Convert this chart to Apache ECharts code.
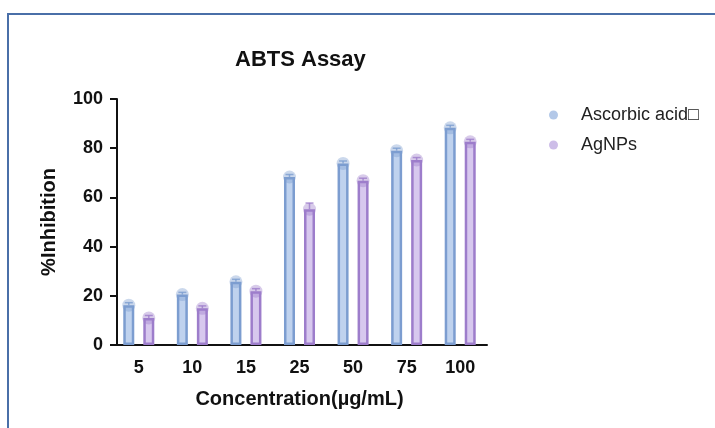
<!DOCTYPE html>
<html>
<head>
<meta charset="utf-8">
<script src="https://cdn.jsdelivr.net/npm/echarts@6/dist/echarts.min.js"></script>
<style>html,body{margin:0;padding:0;background:#fff;}#c{width:715px;height:428px;}</style>
</head>
<body>
<div id="c"></div>
<script>
const categories = ['5', '10', '15', '25', '50', '75', '100'];
const ascorbicName = 'Ascorbic acid\u25A1';
const agnpsName = 'AgNPs';
const ascorbic = [16.2, 20.5, 25.7, 68.3, 73.8, 79.0, 88.3];
const ascorbicErr = [1.0, 0.9, 1.0, 1.0, 1.0, 1.0, 1.0];
const agnps = [11.0, 14.9, 21.9, 55.2, 66.8, 75.2, 82.6];
const agnpsErr = [1.0, 1.0, 1.0, 2.5, 1.0, 1.0, 1.0];
const yTicks = [0, 20, 40, 60, 80, 100];

const FONT = '"Liberation Sans", Arial, sans-serif';
const blueFill = '#bfd2ee', blueLine = '#7c9dd0';
const purpFill = '#d7c8ee', purpLine = '#9d7dcb';
const OFF = 10;

function errSeries(vals, errs, off, color) {
  return {
    type: 'custom', z: 5, silent: true,
    data: categories.map((c, i) => [i, vals[i], errs[i]]),
    renderItem: function (params, api) {
      const p = api.coord([api.value(0), api.value(1)]);
      const t = api.coord([api.value(0), api.value(1) + api.value(2)]);
      const x = p[0] + off;
      return {
        type: 'group', children: [
          { type: 'circle', shape: { cx: x, cy: p[1], r: 6.5 }, style: { fill: color, opacity: 0.4 }, z2: 0 },
          { type: 'line', shape: { x1: x, y1: p[1], x2: x, y2: t[1] }, style: { stroke: color, lineWidth: 1.5, opacity: 0.8 } },
          { type: 'line', shape: { x1: x - 4, y1: t[1], x2: x + 4, y2: t[1] }, style: { stroke: color, lineWidth: 1.5, opacity: 0.8 } }
        ]
      };
    }
  };
}

const chart = echarts.init(document.getElementById('c'), null, { renderer: 'canvas' });
chart.setOption({
  animation: false,
  backgroundColor: '#fff',
  graphic: [{
    type: 'rect', shape: { x: 8, y: 14, width: 800, height: 500 },
    style: { fill: 'none', stroke: '#4a6fa8', lineWidth: 2 }, silent: true
  }],
  title: {
    text: 'ABTS Assay', left: 230, top: 44,
    textStyle: { fontFamily: FONT, fontSize: 22, fontWeight: 'bold', color: '#111' }
  },
  legend: {
    orient: 'vertical', left: 544, top: 101, itemWidth: 9, itemHeight: 9, itemGap: 12,
    icon: 'circle',
    data: [
      { name: ascorbicName, itemStyle: { color: '#b3c8e8', borderWidth: 0 } },
      { name: agnpsName, itemStyle: { color: '#cdbde8', borderWidth: 0 } }
    ],
    textStyle: { fontFamily: FONT, fontSize: 18, color: '#222', padding: [0, 0, 0, 18] }
  },
  grid: { left: 112, right: 228, top: 99, bottom: 83 },
  xAxis: {
    type: 'category', data: categories,
    axisLine: { lineStyle: { color: '#111', width: 2 } },
    axisTick: { alignWithLabel: true, length: 7, lineStyle: { color: '#111', width: 2 } },
    axisLabel: { fontFamily: FONT, fontSize: 18, fontWeight: 'bold', color: '#111', margin: 14 },
    name: 'Concentration(\u00B5g/mL)', nameLocation: 'middle', nameGap: 44,
    nameTextStyle: { fontFamily: FONT, fontSize: 20, fontWeight: 'bold', color: '#111' }
  },
  yAxis: {
    type: 'value', min: yTicks[0], max: yTicks[yTicks.length - 1], interval: 20, offset: -5,
    axisLine: { show: true, lineStyle: { color: '#111', width: 2 } },
    axisTick: { show: true, length: 7, lineStyle: { color: '#111', width: 2 } },
    splitLine: { show: false },
    axisLabel: { fontFamily: FONT, fontSize: 18, fontWeight: 'bold', color: '#111', margin: 14 },
    name: '%Inhibition', nameLocation: 'middle', nameGap: 58,
    nameTextStyle: { fontFamily: FONT, fontSize: 20, fontWeight: 'bold', color: '#111' }
  },
  series: [
    {
      name: ascorbicName, type: 'bar', data: ascorbic, barWidth: 11, barGap: '82%', z: 3,
      itemStyle: { color: blueFill, borderColor: blueLine, borderWidth: 2.5 }
    },
    {
      name: agnpsName, type: 'bar', data: agnps, barWidth: 11, z: 3,
      itemStyle: { color: purpFill, borderColor: purpLine, borderWidth: 2.5 }
    },
    errSeries(ascorbic, ascorbicErr, -OFF, blueLine),
    errSeries(agnps, agnpsErr, OFF, purpLine)
  ]
});
</script>
</body>
</html>
